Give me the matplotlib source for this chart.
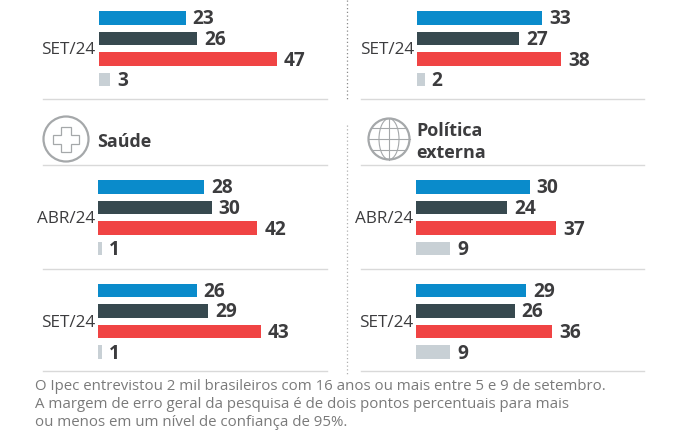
import matplotlib
matplotlib.use("Agg")
import matplotlib.pyplot as plt
from matplotlib.patches import Circle, Ellipse, Polygon

plt.rcParams['font.family'] = ['Open Sans', 'DejaVu Sans']

W, H = 699, 446

# Data
top_left = [23, 26, 47, 3]
top_right = [33, 27, 38, 2]
saude_abr = [28, 30, 42, 1]
saude_set = [26, 29, 43, 1]
externa_abr = [30, 24, 37, 9]
externa_set = [29, 26, 36, 9]

colors = ['#0a8bcb', '#37494f', '#f04444', '#c8d0d5']
TXT = '#3c3c3e'
LINE = '#d9d9d9'
PX_PER_UNIT = 3.79

fig = plt.figure(figsize=(W / 100, H / 100), dpi=100, facecolor='white')

# Overlay in pixel coordinates for rules, icons and text
bg = fig.add_axes([0, 0, 1, 1])
bg.set_xlim(0, W)
bg.set_ylim(H, 0)
bg.axis('off')


def group(values, label, x0, y_top):
    # one small axes per group, 82 px tall with 4 rows
    height = 82.5
    width = 230
    ax = fig.add_axes([x0 / W, 1 - (y_top + height) / H, width / W, height / H])
    ax.set_xlim(0, width / PX_PER_UNIT)
    ax.set_ylim(3.5, -0.5)
    ax.axis('off')
    ax.patch.set_alpha(0)
    ax.barh(range(4), values, height=0.65, color=colors)
    for i, v in enumerate(values):
        ax.annotate(str(v), (v, i), xytext=(7, 1), textcoords='offset pixels',
                    va='center_baseline', ha='left', fontsize=13.8, fontweight='bold', color=TXT)
    bg.text(x0 - 3, y_top + height / 2 - 0.5, label, ha='right', va='center_baseline',
            fontsize=12.3, color=TXT)


group(top_left, 'SET/24', 98.5, 7.5)
group(top_right, 'SET/24', 417, 7.5)
group(saude_abr, 'ABR/24', 98, 176.5)
group(saude_set, 'SET/24', 98, 280)
group(externa_abr, 'ABR/24', 416, 176.5)
group(externa_set, 'SET/24', 416, 280)

# Rules
for y in [98.5, 165, 269, 371]:
    bg.plot([43, 327], [y, y], color=LINE, lw=1)
    bg.plot([361, 644], [y, y], color=LINE, lw=1)

# Dotted divider
bg.plot([346.5, 346.5], [0, 100], color='#8a8a8a', lw=0.9, ls=(0, (1, 2)))
bg.plot([346.5, 346.5], [125, 376], color='#b0b0b0', lw=0.9, ls=(0, (1, 2)))

# Saude icon
bg.add_patch(Circle((66, 139), 22.5, fc='white', ec='#a5a8aa', lw=1.6))
cross = [(61, 127), (71, 127), (71, 135), (79, 135), (79, 144), (71, 144), (71, 152),
         (61, 152), (61, 144), (53, 144), (53, 135), (61, 135)]
bg.add_patch(Polygon(cross, closed=True, fc='white', ec='#a5a8aa', lw=0.9))
bg.text(97, 140, 'Saúde', fontsize=12.9, fontweight='bold', color=TXT, va='center_baseline')

# Globe icon
gx, gy = 389, 139
bg.add_patch(Circle((gx, gy), 20.5, fc='white', ec='#a5a8aa', lw=1.6))
bg.add_patch(Ellipse((gx, gy), 20, 41, fc='none', ec='#a5a8aa', lw=0.8))
bg.plot([gx, gx], [gy - 20.5, gy + 20.5], color='#a5a8aa', lw=0.8)
bg.plot([gx - 20.5, gx + 20.5], [gy, gy], color='#a5a8aa', lw=0.8)
bg.plot([gx - 17, gx + 17], [gy - 11, gy - 11], color='#a5a8aa', lw=0.8)
bg.plot([gx - 17, gx + 17], [gy + 11, gy + 11], color='#a5a8aa', lw=0.8)
bg.text(416, 129.5, 'Política', fontsize=13, fontweight='bold', color=TXT, va='center_baseline')
bg.text(416, 151.5, 'externa', fontsize=13, fontweight='bold', color=TXT, va='center_baseline')

# Footnote
note = ['O Ipec entrevistou 2 mil brasileiros com 16 anos ou mais entre 5 e 9 de setembro.',
        'A margem de erro geral da pesquisa é de dois pontos percentuais para mais',
        'ou menos em um nível de confiança de 95%.']
for y, line in zip([385, 403, 421], note):
    bg.text(35, y, line, fontsize=10.82, color='#7a7a7a', va='center_baseline')

fig.savefig('out.png', dpi=100)
